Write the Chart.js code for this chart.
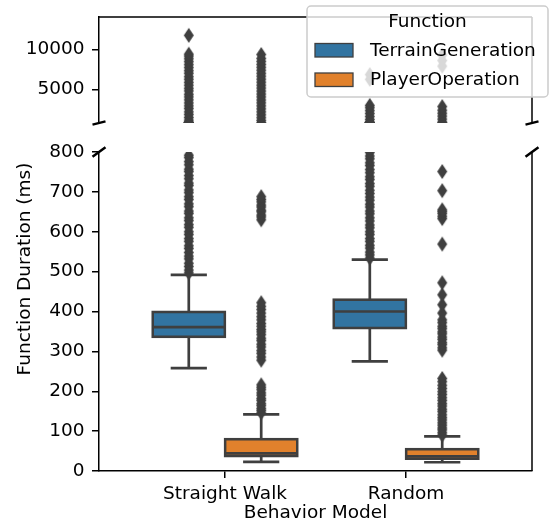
<!DOCTYPE html>
<html>
<head>
<meta charset="utf-8">
<title>Function Duration</title>
<script src="https://cdn.jsdelivr.net/npm/chart.js@4.4.1/dist/chart.umd.min.js"></script>
<style>
    html, body { margin: 0; padding: 0; background: #fff; }
    #contenedor { position: relative; width: 549px; height: 530px; }
    #contenedor canvas { position: absolute; left: 0; }
    #arriba { top: 0; }
    #abajo { top: 140px; }
</style>
</head>
<body>
<div id="contenedor">
    <canvas id="arriba" width="549" height="140"></canvas>
    <canvas id="abajo" width="549" height="390"></canvas>
</div>
<script>
// CATEGORÍAS Y SERIES
const modelos = ["Straight Walk", "Random"];
const funciones = ["TerrainGeneration", "PlayerOperation"];
const colores = ["#3274a1", "#e1812c"];

// resumen de cada caja: [bigote inf, Q1, mediana, Q3, bigote sup]
const cajaTerrainStraight = [258, 336, 361, 399, 492];
const cajaTerrainRandom = [275, 358, 400, 430, 530];
const cajaPlayerStraight = [23, 37, 44, 80, 142];
const cajaPlayerRandom = [22, 31, 37, 55, 87];

// valores atípicos (ms)
const atipTerrainStraight = [497, 504, 513, 521, 532, 539, 548, 558, 565, 576, 583, 593, 600, 611, 618, 628, 635, 646, 652, 663, 670, 681, 688, 698, 705, 716, 722, 733, 741, 751, 757, 768, 776, 786, 792, 830,
    1160, 1490, 1860, 2190, 2610, 2940, 3310, 3690, 4060, 4390, 4810, 5140, 5520, 5880, 6260, 6590, 7010, 7340, 7720, 8090, 8460, 8820, 9160, 9400, 11750];
const atipTerrainRandom = [534, 542, 549, 559, 566, 576, 583, 593, 600, 610, 617, 627, 635, 645, 652, 662, 669, 679, 687, 696, 704, 714, 721, 731, 738, 748, 756, 766, 773, 783, 790, 799, 870,
    1240, 1610, 1980, 2340, 2710, 3000, 6250, 6850];
const atipPlayerStraight = [146, 152, 157, 164, 169, 177, 182, 190, 196, 204, 210, 216,
    278, 286, 295, 302, 311, 318, 327, 333, 342, 349, 355, 363, 370, 379, 387, 396, 405, 413, 422,
    630, 637, 642, 650, 654, 662, 667, 675, 681, 688,
    1120, 1460, 1830, 2190, 2570, 2940, 3320, 3680, 4060, 4420, 4790, 5170, 5530, 5900, 6280, 6650, 7010, 7390, 7760, 8120, 8490, 8870, 9350];
const atipPlayerRandom = [90, 96, 103, 108, 115, 121, 128, 134, 141, 149, 155, 163, 169, 177, 184, 192, 199, 207, 215, 224, 232,
    303, 309, 317, 322, 330, 336, 344, 349, 357, 363, 372, 379, 396, 417, 442, 472,
    569, 633, 639, 646, 651, 655, 703, 751,
    920, 1290, 1660, 2020, 2400, 2850, 7900, 8600, 9300];

// marcas de los ejes
const ticksArriba = [5000, 10000];
const ticksAbajo = [0, 100, 200, 300, 400, 500, 600, 700, 800];

const gris = "#3f3f3f";
const desplazamiento = [-0.2, 0.2]; // posición de cada función dentro del grupo
const cajas = [[cajaTerrainStraight, cajaTerrainRandom], [cajaPlayerStraight, cajaPlayerRandom]];
const atipicos = [[atipTerrainStraight, atipTerrainRandom], [atipPlayerStraight, atipPlayerRandom]];

Chart.defaults.font.family = "'DejaVu Sans', sans-serif";
Chart.defaults.font.size = 18.5;
Chart.defaults.color = "#000";

// marcador de rombo fino para los atípicos
function rombo() {
    const c = document.createElement("canvas");
    c.width = 12;
    c.height = 17;
    const g = c.getContext("2d");
    g.fillStyle = gris;
    g.beginPath();
    g.moveTo(6, 1);
    g.lineTo(11, 8.5);
    g.lineTo(6, 16);
    g.lineTo(1, 8.5);
    g.closePath();
    g.fill();
    return c;
}
const marcador = rombo();

// bigotes, tapas y mediana de una caja (segmentos separados por null)
function lineasCaja(x, c) {
    const medio = 0.2, tapa = 0.1;
    return [
        {x, y: c[0]}, {x, y: c[1]}, {x, y: null},
        {x, y: c[3]}, {x, y: c[4]}, {x, y: null},
        {x: x - tapa, y: c[0]}, {x: x + tapa, y: c[0]}, {x, y: null},
        {x: x - tapa, y: c[4]}, {x: x + tapa, y: c[4]}, {x, y: null},
        {x: x - medio, y: c[2]}, {x: x + medio, y: c[2]}
    ];
}

function datasetsAtipicos() {
    const sets = [];
    funciones.forEach((f, k) => {
        modelos.forEach((m, i) => {
            sets.push({
                type: "scatter",
                label: f + " " + m,
                data: atipicos[k][i].map(v => ({x: i + desplazamiento[k], y: v})),
                pointStyle: marcador,
                pointRadius: 5,
                clip: 0,
                order: 0
            });
        });
    });
    return sets;
}

function datasetsCajas() {
    const sets = [];
    funciones.forEach((f, k) => {
        sets.push({
            type: "bar",
            label: f,
            data: modelos.map((m, i) => ({x: i + desplazamiento[k], y: [cajas[k][i][1], cajas[k][i][3]]})),
            backgroundColor: colores[k],
            borderColor: gris,
            borderWidth: 2.7,
            borderSkipped: false,
            inflateAmount: 1.3,
            grouped: false,
            categoryPercentage: 1,
            barPercentage: 1,
            order: 2
        });
        modelos.forEach((m, i) => {
            sets.push({
                type: "line",
                label: f + " " + m + " bigotes",
                data: lineasCaja(i + desplazamiento[k], cajas[k][i]),
                borderColor: gris,
                borderWidth: 2.7,
                pointRadius: 0,
                fill: false,
                spanGaps: false,
                order: 1
            });
        });
    });
    return sets;
}

// eje y común: ancho fijo para que ambos paneles queden alineados
function ejeY(min, max, marcas) {
    return {
        type: "linear",
        min,
        max,
        afterBuildTicks: axis => { axis.ticks = marcas.map(v => ({value: v})); },
        afterFit: scale => { scale.width = 99; scale.paddingTop = 0; scale.paddingBottom = 0; },
        ticks: { padding: 7.5, callback: v => String(v) },
        grid: { drawOnChartArea: false, drawTicks: true, tickLength: 7, color: "#000", lineWidth: 1.5 },
        border: { display: true, color: "#000", width: 1.5 }
    };
}

// spines extra y marcas de corte del eje
const marco = {
    id: "marco",
    afterDraw(chart, args, opts) {
        const {ctx, chartArea: a} = chart;
        ctx.save();
        ctx.strokeStyle = "#000";
        ctx.lineWidth = 1.5;
        ctx.beginPath();
        if (opts.corte === "abajo") {
            ctx.moveTo(a.left, a.top);
            ctx.lineTo(a.right, a.top);
        }
        ctx.moveTo(a.right, a.top);
        ctx.lineTo(a.right, a.bottom);
        ctx.stroke();

        const y = opts.corte === "abajo" ? a.bottom : a.top;
        const dx = 0.015 * (a.right - a.left);
        const dy = 0.015 * (a.bottom - a.top);
        ctx.lineWidth = 2.5;
        ctx.beginPath();
        for (const x of [a.left, a.right]) {
            ctx.moveTo(x - dx, y + dy);
            ctx.lineTo(x + dx, y - dy);
        }
        ctx.stroke();
        ctx.restore();
    }
};

// leyenda con marco semitransparente encima de los datos
const leyenda = {
    id: "leyenda",
    afterDraw(chart, args, opts) {
        const {ctx} = chart;
        const {x, y, w, h} = opts;
        ctx.save();
        ctx.beginPath();
        ctx.roundRect(x, y, w, h, 4);
        ctx.fillStyle = "rgba(255,255,255,0.8)";
        ctx.fill();
        ctx.strokeStyle = "#cccccc";
        ctx.lineWidth = 1.5;
        ctx.stroke();

        ctx.fillStyle = "#000";
        ctx.font = "18.5px 'DejaVu Sans'";
        ctx.textBaseline = "middle";
        ctx.textAlign = "center";
        ctx.fillText("Function", x + w / 2, y + 16);

        ctx.textAlign = "left";
        funciones.forEach((f, k) => {
            const py = y + 37.5 + k * 29.5;
            ctx.fillStyle = colores[k];
            ctx.fillRect(x + 8, py, 38, 13.5);
            ctx.strokeStyle = gris;
            ctx.lineWidth = 1.3;
            ctx.strokeRect(x + 8, py, 38, 13.5);
            ctx.fillStyle = "#000";
            ctx.fillText(f, x + 63, py + 7.5);
        });
        ctx.restore();
    }
};

// título del eje y, centrado sobre los dos paneles
const tituloY = {
    id: "tituloY",
    afterDraw(chart, args, opts) {
        const {ctx} = chart;
        ctx.save();
        ctx.translate(opts.x, opts.y);
        ctx.rotate(-Math.PI / 2);
        ctx.fillStyle = "#000";
        ctx.font = "18.5px 'DejaVu Sans'";
        ctx.textAlign = "center";
        ctx.textBaseline = "middle";
        ctx.fillText(opts.texto, 0, 0);
        ctx.restore();
    }
};

const ejeX = { type: "linear", min: -0.696, max: 1.696, offset: false };

// PANEL SUPERIOR (valores grandes)
new Chart(document.getElementById("arriba"), {
    type: "scatter",
    data: { datasets: datasetsAtipicos() },
    options: {
        responsive: false,
        animation: false,
        events: [],
        devicePixelRatio: 1,
        layout: { padding: { top: 17, right: 17, bottom: 17, left: 0 } },
        scales: {
            x: Object.assign({}, ejeX, { display: false }),
            y: ejeY(800, 14040, ticksArriba)
        },
        plugins: {
            legend: { display: false },
            tooltip: { enabled: false },
            marco: { corte: "abajo" },
            leyenda: { x: 307, y: 6, w: 241, h: 91 }
        }
    },
    plugins: [marco, leyenda]
});

// PANEL INFERIOR (0 a 800 ms)
new Chart(document.getElementById("abajo"), {
    type: "bar",
    data: { datasets: datasetsCajas().concat(datasetsAtipicos()) },
    options: {
        responsive: false,
        animation: false,
        events: [],
        devicePixelRatio: 1,
        layout: { padding: { top: 12, right: 17, bottom: 0, left: 0 } },
        scales: {
            x: Object.assign({}, ejeX, {
                afterBuildTicks: axis => { axis.ticks = modelos.map((m, i) => ({value: i})); },
                afterFit: scale => { scale.height = 59; scale.paddingLeft = 0; scale.paddingRight = 0; },
                ticks: { padding: 5.5, autoSkip: false, maxRotation: 0, callback: v => modelos[v] },
                grid: { offset: false, drawOnChartArea: false, drawTicks: true, tickLength: 7, color: "#000", lineWidth: 1.5 },
                border: { display: true, color: "#000", width: 1.5 },
                title: { display: true, text: "Behavior Model", padding: { top: 0, bottom: 6 } }
            }),
            y: ejeY(0, 800, ticksAbajo)
        },
        plugins: {
            legend: { display: false },
            tooltip: { enabled: false },
            marco: { corte: "arriba" },
            tituloY: { x: 25.5, y: 129, texto: "Function Duration (ms)" }
        }
    },
    plugins: [marco, tituloY]
});
</script>
</body>
</html>
